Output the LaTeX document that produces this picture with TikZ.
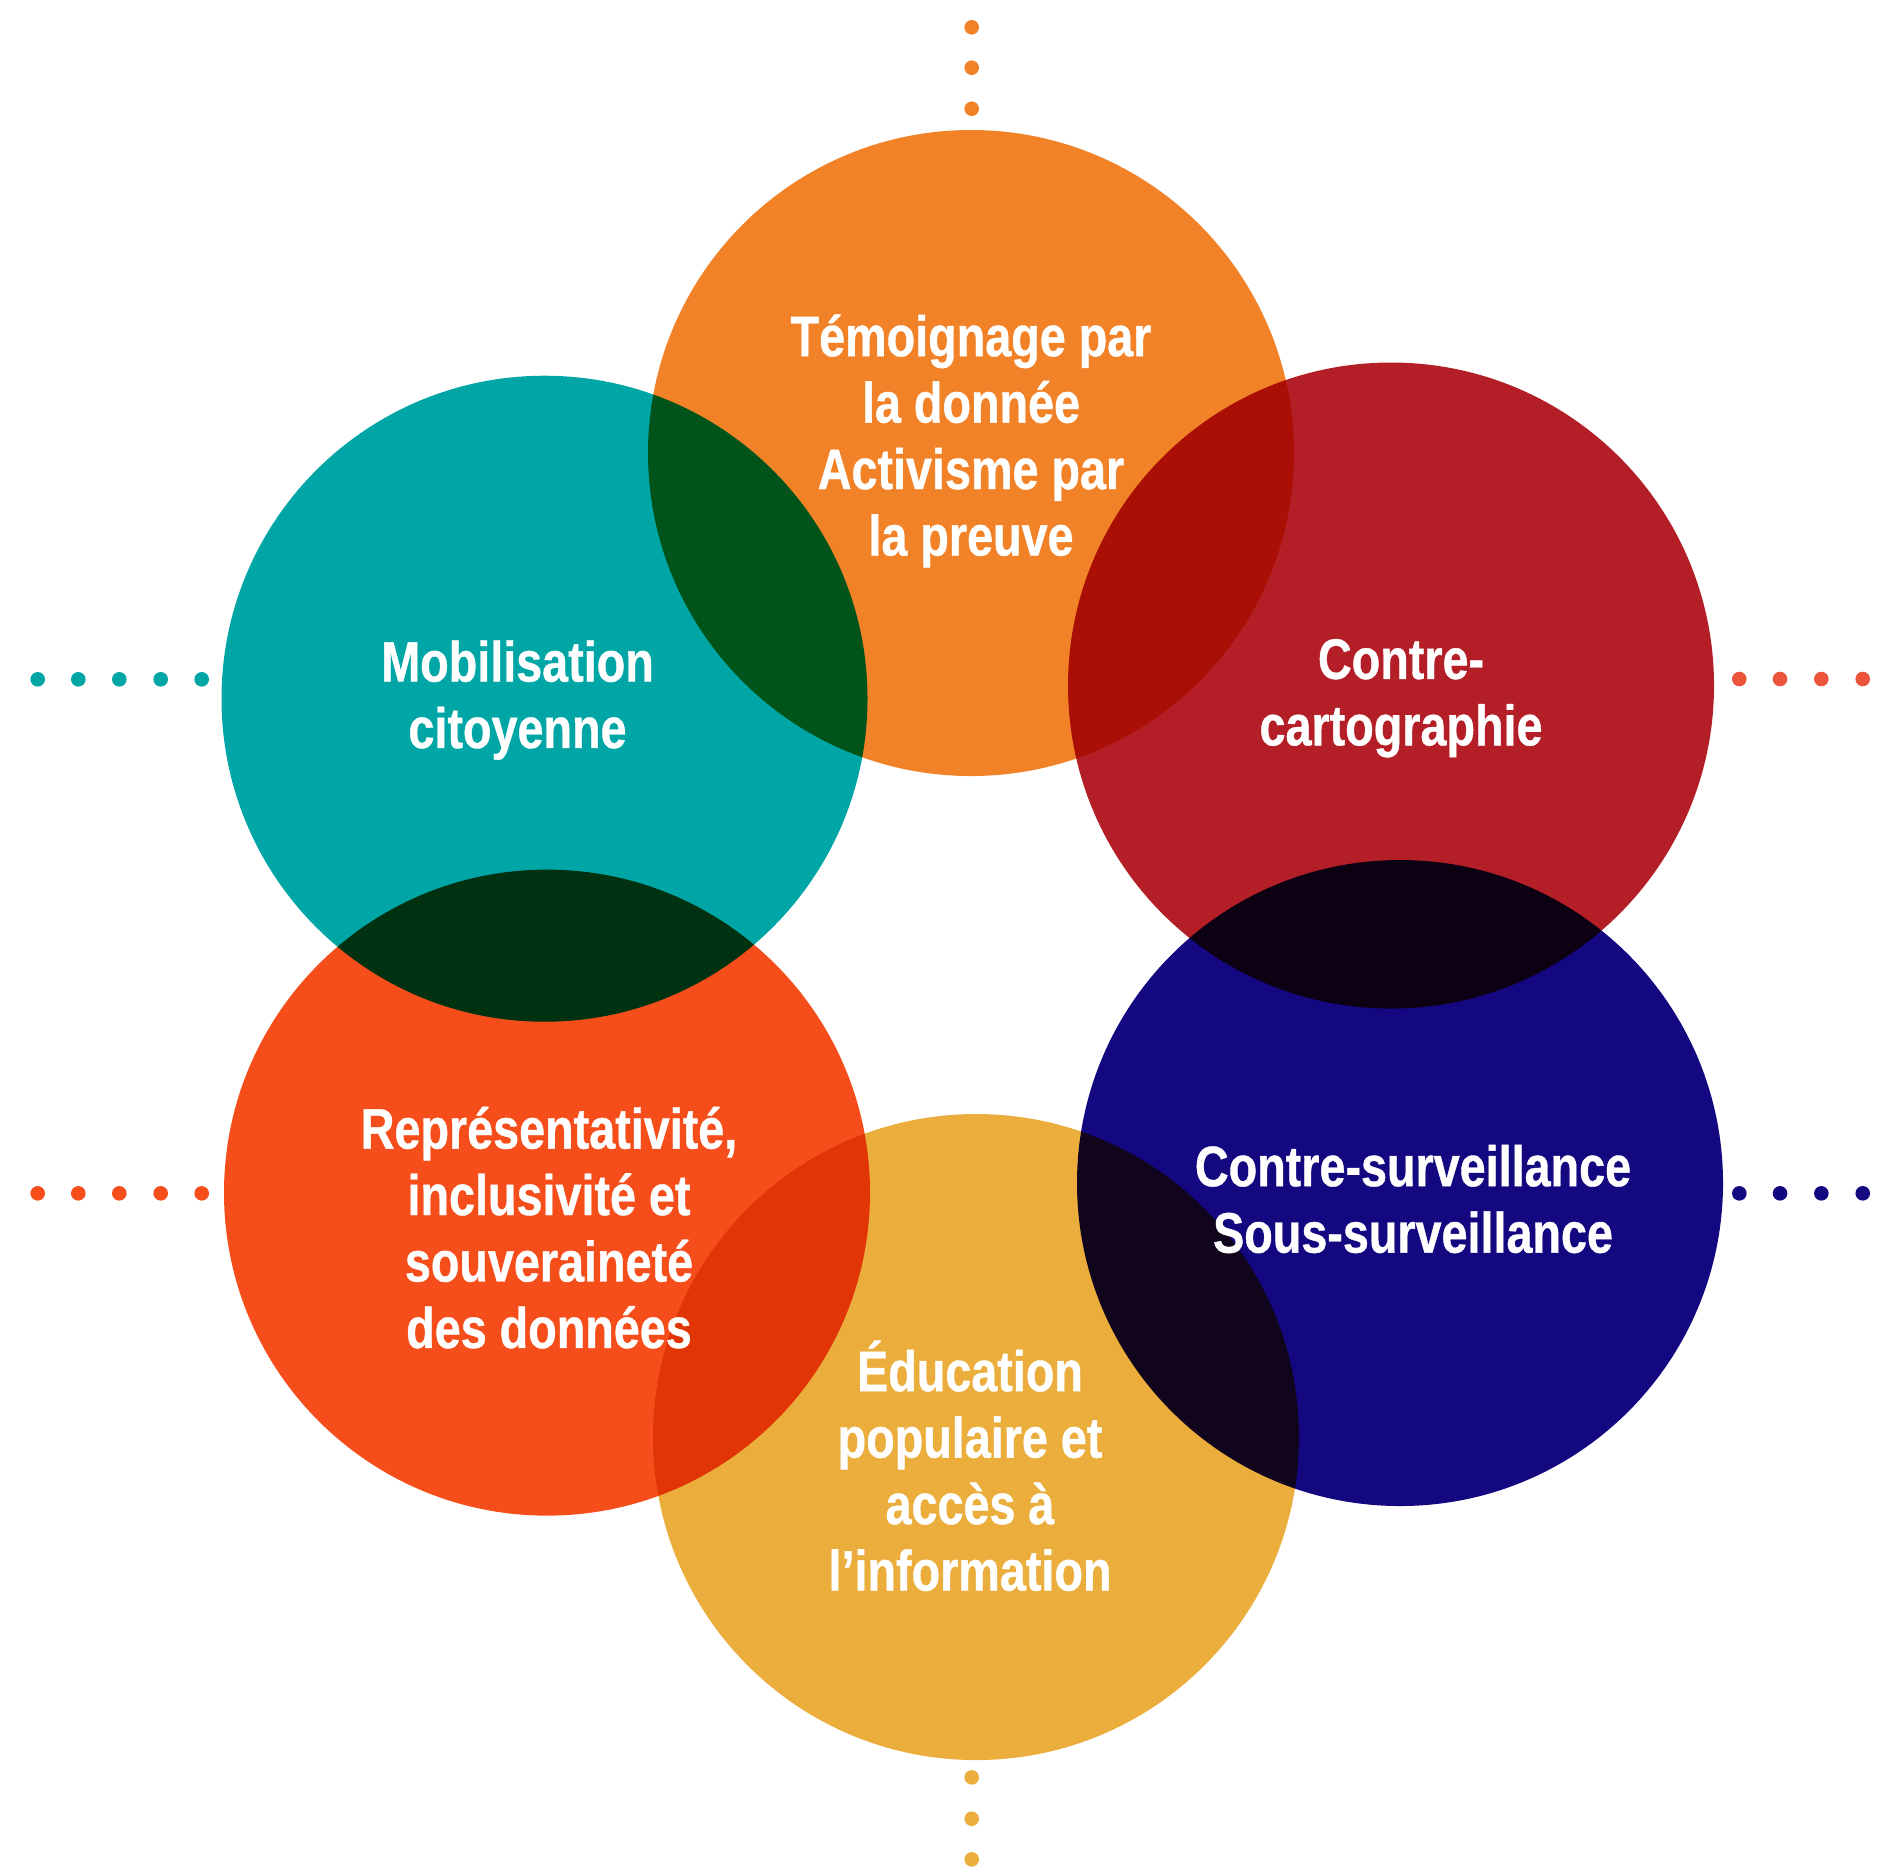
\documentclass[tikz,border=0pt]{standalone}
\usepackage{fontspec}
\setmainfont{Liberation Sans}[FakeStretch=0.82, BoldFeatures={FakeBold=0.7}]
\usepackage{tikz}

\definecolor{corange}{HTML}{F28227}
\definecolor{cteal}{HTML}{00A6A6}
\definecolor{cred}{HTML}{B41F27}
\definecolor{cflame}{HTML}{F54E1B}
\definecolor{cnavy}{HTML}{130880}
\definecolor{cgold}{HTML}{EBAE3D}
\definecolor{cdotred}{HTML}{EB553C}

\tikzset{
	label/.style={text=white, align=center, inner sep=0pt,
		font=\fontsize{16.2}{18.9}\selectfont\bfseries},
	dot/.style={radius=7.3}
}

\begin{document}
\begin{tikzpicture}[x=0.01cm,y=-0.01cm]
	\useasboundingbox (0,0) rectangle (1889,1871);

	% the six discs, multiplied where they overlap
	\begin{scope}[blend mode=multiply]
		\fill[corange] (971,453) circle [radius=323];
		\fill[cteal] (544.5,698.7) circle [radius=323];
		\fill[cred] (1391,685.5) circle [radius=323];
		\fill[cflame] (547,1192.6) circle [radius=323];
		\fill[cnavy] (1400,1183) circle [radius=323];
		\fill[cgold] (976,1437) circle [radius=323];
	\end{scope}

	% dotted leaders
	\foreach \y in {27.3,67.7,108.7}
		\fill[corange] (971.7,\y) circle [dot];
	\foreach \y in {1777.3,1818.7,1859.3}
		\fill[cgold] (971.7,\y) circle [dot];
	\foreach \x in {37.7,78.3,119.3,160.7,201.7} {
		\fill[cteal] (\x,679.3) circle [dot];
		\fill[cflame] (\x,1193.3) circle [dot];
	}
	\foreach \x in {1739.3,1780,1821.3,1862.7} {
		\fill[cdotred] (\x,679) circle [dot];
		\fill[cnavy] (\x,1193.3) circle [dot];
	}

	% labels
	\node[label] (temoignage) at (971,440.8) {Témoignage par\\la donnée\\Activisme par\\la preuve};
	\node[label] (mobilisation) at (517.5,700) {Mobilisation\\citoyenne};
	\node[label] (cartographie) at (1401,698.2) {Contre-\\cartographie};
	\node[label] (representativite) at (549,1227.6) {Représentativité,\\inclusivité et\\souveraineté\\des données};
	\node[label] (surveillance) at (1413,1199) {Contre-surveillance\\Sous-surveillance};
	\node[label] (education) at (970,1465.8) {Éducation\\populaire et\\accès à\\l’information};
\end{tikzpicture}
\end{document}
